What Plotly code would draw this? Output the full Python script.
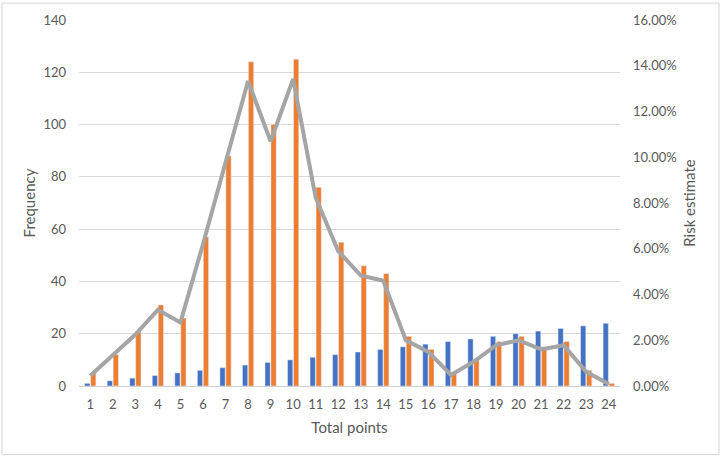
import plotly.graph_objects as go

points = list(range(1, 25))
freq_blue = [1, 2, 3, 4, 5, 6, 7, 8, 9, 10, 11, 12, 13, 14, 15, 16, 17, 18, 19, 20, 21, 22, 23, 24]
freq_orange = [5, 12, 21, 31, 26, 57, 88, 124, 100, 125, 76, 55, 46, 43, 19, 14, 5, 10, 17, 19, 15, 17, 6, 1]
risk = [0.0045, 0.0135, 0.0225, 0.0333, 0.0278, 0.062, 0.098, 0.1333, 0.107, 0.1342,
        0.0823, 0.059, 0.0483, 0.046, 0.020, 0.0149, 0.0048, 0.0106, 0.0178, 0.020,
        0.016, 0.0178, 0.0062, 0.0009]

W, H = 722, 459
ML, MR, MT, MB = 79, 102, 18, 73
PW, PH = W - ML - MR, H - MT - MB

font = dict(family="Lato, Open Sans, sans-serif", size=13, color="#595959")
title_font = dict(family="Lato, Open Sans, sans-serif", size=15, color="#595959")

fig = go.Figure()
fig.add_trace(go.Bar(x=points, y=freq_blue, marker_color="#4472C4", name="Frequency A"))
fig.add_trace(go.Bar(x=points, y=freq_orange, marker_color="#ED7D31", name="Frequency B"))
fig.add_trace(go.Scatter(x=points, y=risk, yaxis="y2", mode="lines",
                         line=dict(color="#A5A5A5", width=4), name="Risk estimate"))

def px_x(px):
    return (px - ML) / PW

def px_y(py):
    return (H - MB - py) / PH

fig.update_layout(
    width=W, height=H,
    margin=dict(l=ML, r=MR, t=MT, b=MB, pad=0),
    paper_bgcolor="white", plot_bgcolor="white",
    font=font,
    showlegend=False,
    barmode="group", bargap=0.47, bargroupgap=0.12,
    xaxis=dict(
        tickmode="array", tickvals=points, ticktext=[str(p) for p in points],
        range=[0.5, 24.5], showgrid=False, zeroline=False,
        showline=True, linecolor="#D0D0D0", linewidth=1,
        ticks="", ticklabelstandoff=6,
        title=dict(text="Total points", font=title_font, standoff=11),
    ),
    yaxis=dict(
        range=[0, 140], dtick=20, showgrid=True, gridcolor="#D9D9D9", gridwidth=1,
        zeroline=False, ticks="", ticklabelstandoff=12,
        title=dict(text="Frequency", font=title_font, standoff=4),
    ),
    yaxis2=dict(
        range=[0, 0.16], dtick=0.02, tickformat=".2%", overlaying="y", side="right",
        showgrid=False, zeroline=False, ticks="", ticklabelstandoff=12,
        title=dict(text="Risk estimate", font=title_font, standoff=8),
    ),
    shapes=[dict(type="rect", xref="paper", yref="paper",
                 x0=px_x(2), x1=px_x(719), y0=px_y(455), y1=px_y(1),
                 line=dict(color="#D6D6D6", width=1), layer="below")],
)

fig.write_html("out.html")
